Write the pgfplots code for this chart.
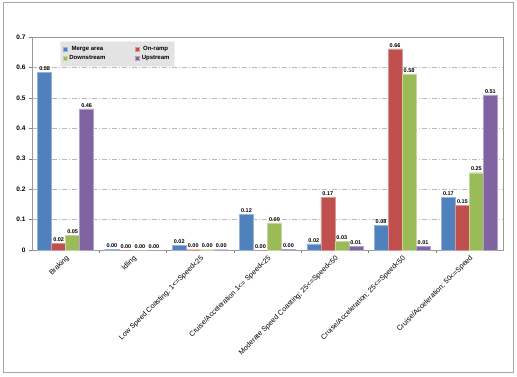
\documentclass[border=0pt]{standalone}
\usepackage{pgfplots}
\pgfplotsset{compat=1.18}
\usepackage{fontspec}
\setmainfont{Liberation Sans}
\definecolor{cMerge}{HTML}{4F81BD}
\definecolor{cOn}{HTML}{C0504D}
\definecolor{cDown}{HTML}{9BBB59}
\definecolor{cUp}{HTML}{8064A2}
\pgfplotstableread{
x merge onramp down up
0 0.584 0.023 0.049 0.464
1 0.003 0.000 0.000 0.000
2 0.015 0.001 0.001 0.001
3 0.118 0.000 0.089 0.002
4 0.020 0.173 0.028 0.011
5 0.082 0.661 0.579 0.013
6 0.174 0.146 0.254 0.510
}\datatable
\begin{document}
\begin{tikzpicture}[x=1pt,y=1pt]
\useasboundingbox (0,0) rectangle (517,376);
\draw[gray!70, line width=1pt] (3,4) rectangle (513,373);
\begin{axis}[
  at={(32pt,126pt)}, anchor=south west,
  scale only axis, width=471pt, height=213pt,
  ybar=0pt, bar width=14pt,
  xmin=-0.5, xmax=6.5, ymin=0, ymax=0.7,
  xtick={0,...,6},
  xticklabels={Braking, Idling, {Low Speed Coasting; 1<=Speed<25}, {Cruise/Acceleration  1<= Speed<25}, {Moderate Speed Coasting; 25<=Speed<50}, {Cruise/Acceleration; 25<=Speed<50}, {Cruise/Acceleration; 50<=Speed}},
  x tick label style={rotate=45, anchor=north east, font=\fontsize{7.2}{8}\selectfont, inner sep=1pt},
  major x tick style={draw=none},
  minor xtick={0.5,1.5,...,5.5},
  minor x tick style={gray},
  ytick={0,0.1,...,0.7},
  yticklabel style={font=\fontsize{6.5}{7}\selectfont\bfseries},
  yticklabel={\pgfmathparse{\tick}\pgfmathprintnumber[fixed,precision=1,assume math mode=true]{\pgfmathresult}},
  ymajorgrids,
  major grid style={gray!55, dash pattern=on 5pt off 2pt on 1pt off 2pt},
  tick align=outside,
  major tick length=3pt, minor tick length=3pt,
  axis line style={gray!80},
  y tick style={gray},
  xtick pos=bottom, ytick pos=left,
  nodes near coords,
  nodes near coords style={font=\fontsize{5.5}{6}\selectfont\bfseries, inner sep=1.5pt, /pgf/number format/fixed, /pgf/number format/fixed zerofill, /pgf/number format/precision=2, /pgf/number format/assume math mode=true},
  legend style={at={(0.06,0.98)}, anchor=north west, fill=gray!22, draw=gray!10, font=\fontsize{6}{7}\selectfont\bfseries, legend columns=2, /tikz/every even column/.append style={column sep=28pt}, inner sep=2.5pt},
  legend image code/.code={\fill[#1] (0pt,-2pt) rectangle (4pt,2pt);},
  clip=false,
]
\addplot[fill=cMerge, draw=cMerge!60!white] table[x=x,y=merge]{\datatable};
\addplot[fill=cOn, draw=cOn!60!white] table[x=x,y=onramp]{\datatable};
\addplot[fill=cDown, draw=cDown!60!white] table[x=x,y=down]{\datatable};
\addplot[fill=cUp, draw=cUp!60!white] table[x=x,y=up]{\datatable};
\legend{Merge area, On-ramp, Downstream, Upstream}
\end{axis}
\end{tikzpicture}
\end{document}
